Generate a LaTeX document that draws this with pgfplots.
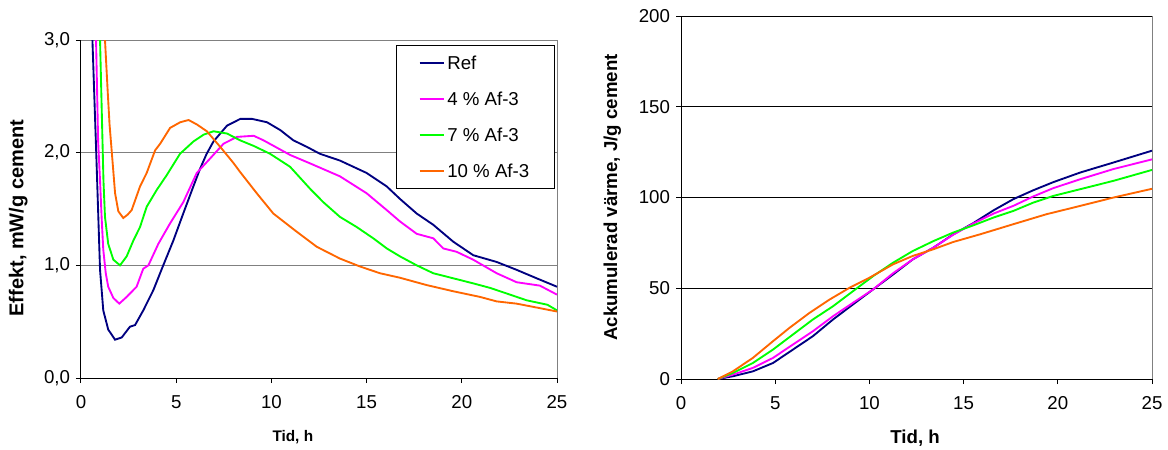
\documentclass[border=0pt]{standalone}
\usepackage{fontspec}
\setmainfont{Liberation Sans}
\usepackage{pgfplots}
\pgfplotsset{compat=1.18}
\definecolor{cref}{HTML}{000080}
\definecolor{cfour}{HTML}{FF00FF}
\definecolor{cseven}{HTML}{00FF00}
\definecolor{cten}{HTML}{FF6600}
\definecolor{gridgray}{HTML}{808080}
\pgfplotsset{
  common/.style={
    scale only axis, xmin=0, xmax=25, xtick={0,5,10,15,20,25},
    axis x line*=bottom, axis y line*=left,
    axis line style={-, black, line width=0.75pt},
    tick align=outside, major tick length=3.75pt,
    tick style={black, line width=0.75pt},
    ticklabel style={font=\fontsize{14}{16}\selectfont},
    /pgf/number format/assume math mode=true,
    xticklabel style={yshift=-6pt},
    yticklabel style={xshift=-1pt},
    extra x ticks={25}, extra x tick labels={},
    extra x tick style={grid=major, major grid style={gridgray, line width=0.75pt}, major tick length=0pt},
    every axis plot/.append style={line width=1.4pt},
  }
}
\begin{document}
\begin{tikzpicture}
\useasboundingbox (0,0) rectangle (876pt,-337.5pt);
% Left: Effekt
\begin{axis}[common,
  at={(60.75pt,-283.5pt)}, anchor=south west,
  width=357pt, height=253.5pt,
  ymin=0, ymax=3, ytick={0,1,2,3},
  ymajorgrids, major grid style={gridgray, line width=0.75pt},
  yticklabel style={/pgf/number format/.cd, fixed, fixed zerofill, precision=1, use comma},
  xlabel={Tid, h},
  xlabel style={font=\bfseries\fontsize{11.5}{13}\selectfont, at={(axis description cs:0.445,-0.175)}, anchor=center},
  ylabel={Effekt, mW/g cement},
  ylabel style={font=\bfseries\fontsize{15}{18}\selectfont, at={(axis description cs:-0.132,0.473)}, anchor=center},
  legend style={at={(axis description cs:0.996,0.985)}, anchor=north east,
    draw=black, line width=0.75pt, font=\fontsize{14}{16}\selectfont,
    inner xsep=17pt, inner ysep=6pt, row sep=13pt,
    nodes={inner sep=2pt, text height=10pt, text depth=0pt}},
  legend cell align=left,
  legend image code/.code={\draw[#1, line width=1.4pt] (0pt,0pt) -- (18pt,0pt);},
]
\addplot[cref] coordinates {(0.55,3.3)(0.6,3.0)(0.8,2.0)(1.0,0.96)(1.17,0.60)(1.43,0.43)(1.79,0.34)(2.14,0.36)(2.57,0.455)(2.84,0.47)(3.27,0.60)(3.8,0.78)(4.32,1.0)(4.85,1.22)(5.37,1.46)(5.9,1.70)(6.26,1.86)(6.6,1.99)(6.96,2.10)(7.67,2.24)(8.37,2.30)(8.98,2.30)(9.77,2.27)(10.47,2.20)(11.15,2.11)(11.88,2.05)(12.55,1.99)(13.6,1.93)(15.0,1.82)(16.06,1.70)(16.75,1.59)(17.63,1.46)(18.5,1.36)(19.55,1.21)(20.6,1.09)(21.83,1.03)(22.88,0.96)(23.93,0.885)(25,0.81)};
\addlegendentry{Ref}
\addplot[cfour] coordinates {(0.74,3.3)(0.79,3.0)(0.9,2.1)(1.0,1.75)(1.09,1.4)(1.17,1.14)(1.3,0.93)(1.43,0.81)(1.70,0.71)(2.01,0.66)(2.40,0.72)(2.92,0.81)(3.27,0.97)(3.54,1.0)(4.06,1.19)(4.67,1.37)(5.37,1.56)(6.08,1.82)(6.79,1.95)(7.49,2.08)(8.19,2.14)(9.07,2.15)(9.58,2.11)(10.98,1.98)(12.03,1.905)(13.6,1.79)(15.0,1.64)(16.06,1.49)(16.75,1.39)(17.63,1.28)(18.5,1.24)(19.03,1.15)(19.73,1.12)(20.6,1.05)(21.83,0.93)(22.88,0.85)(24.1,0.82)(25,0.74)};
\addlegendentry{4 \% Af-3}
\addplot[cseven] coordinates {(0.97,3.3)(1.0,3.0)(1.1,2.3)(1.18,1.75)(1.26,1.43)(1.43,1.19)(1.70,1.05)(2.05,1.00)(2.40,1.08)(2.75,1.22)(3.1,1.34)(3.45,1.52)(3.98,1.67)(4.5,1.80)(5.2,1.99)(5.91,2.10)(6.44,2.16)(6.96,2.19)(7.67,2.17)(8.35,2.11)(9.07,2.06)(9.93,1.99)(10.98,1.875)(12.03,1.68)(12.73,1.56)(13.6,1.43)(14.48,1.34)(15.35,1.24)(16.06,1.15)(16.75,1.08)(17.63,1.00)(18.5,0.93)(19.55,0.885)(20.6,0.84)(21.48,0.80)(22.36,0.75)(23.4,0.69)(24.5,0.65)(25,0.60)};
\addlegendentry{7 \% Af-3}
\addplot[cten] coordinates {(1.22,3.3)(1.26,3.0)(1.4,2.55)(1.5,2.25)(1.61,2.02)(1.79,1.64)(1.96,1.48)(2.22,1.42)(2.45,1.45)(2.66,1.49)(3.1,1.70)(3.45,1.82)(3.89,2.02)(4.16,2.08)(4.68,2.22)(5.21,2.27)(5.65,2.29)(6.09,2.25)(6.61,2.19)(7.32,2.05)(8.0,1.91)(8.35,1.83)(9.23,1.64)(10.1,1.46)(11.24,1.31)(12.38,1.165)(13.6,1.06)(14.65,0.99)(15.7,0.93)(16.75,0.89)(18.15,0.825)(19.55,0.77)(20.95,0.72)(21.83,0.68)(22.88,0.66)(24.1,0.62)(25,0.59)};
\addlegendentry{10 \% Af-3}
\end{axis}
% Right: Ackumulerad värme
\begin{axis}[common,
  at={(510.75pt,-284.25pt)}, anchor=south west,
  width=353.25pt, height=272.25pt,
  ymin=0, ymax=200, ytick={0,50,100,150,200},
  ymajorgrids, major grid style={black, line width=0.5pt},
  xlabel={Tid, h},
  xlabel style={font=\bfseries\fontsize{14}{16}\selectfont, at={(axis description cs:0.497,-0.163)}, anchor=center},
  ylabel={Ackumulerad värme, J/g cement},
  ylabel style={font=\bfseries\fontsize{14}{16}\selectfont, at={(axis description cs:-0.146,0.50)}, anchor=center},
]
\addplot[cref] coordinates {(1.95,0)(2.75,1.5)(3.81,4.2)(4.88,8.8)(5.94,16.2)(7.0,23.6)(8.07,32.8)(9.13,41.1)(10.2,49.4)(11.26,57.6)(12.3,65.9)(13.4,72.4)(14.45,79.7)(15.5,85.8)(16.6,93.0)(17.64,99.1)(18.7,104.0)(19.77,108.5)(21.2,113.8)(22.96,119.3)(25,125.8)};
\addplot[cfour] coordinates {(1.95,0)(2.75,2.4)(3.81,6.1)(4.88,11.6)(5.94,19.0)(7.0,26.3)(8.07,34.6)(9.13,42.0)(10.2,49.4)(11.26,58.3)(12.3,65.9)(13.4,72.4)(14.45,79.5)(15.5,85.6)(16.6,91.2)(17.64,95.4)(18.7,100.6)(19.77,105.2)(21.2,110.1)(22.96,115.7)(25,121.0)};
\addplot[cseven] coordinates {(1.95,0)(2.75,3.3)(3.81,8.8)(4.88,16.2)(5.94,24.5)(7.0,32.8)(8.07,40.1)(9.13,48.4)(10.2,56.7)(11.26,64.1)(12.3,70.5)(13.4,76.0)(14.45,80.7)(15.5,84.6)(16.6,89.0)(17.64,92.6)(18.7,97.2)(19.77,100.9)(21.2,104.6)(22.96,109.2)(25,115.2)};
\addplot[cten] coordinates {(1.95,0)(2.75,4.2)(3.81,11.6)(4.88,20.8)(5.76,28.2)(6.83,36.5)(7.89,43.8)(8.95,50.3)(10.0,55.8)(11.26,63.2)(12.3,67.8)(13.4,71.5)(14.45,75.5)(15.87,79.7)(17.64,85.3)(19.4,90.8)(21.2,95.4)(22.96,100.0)(25,104.8)};
\end{axis}
\end{tikzpicture}
\end{document}
